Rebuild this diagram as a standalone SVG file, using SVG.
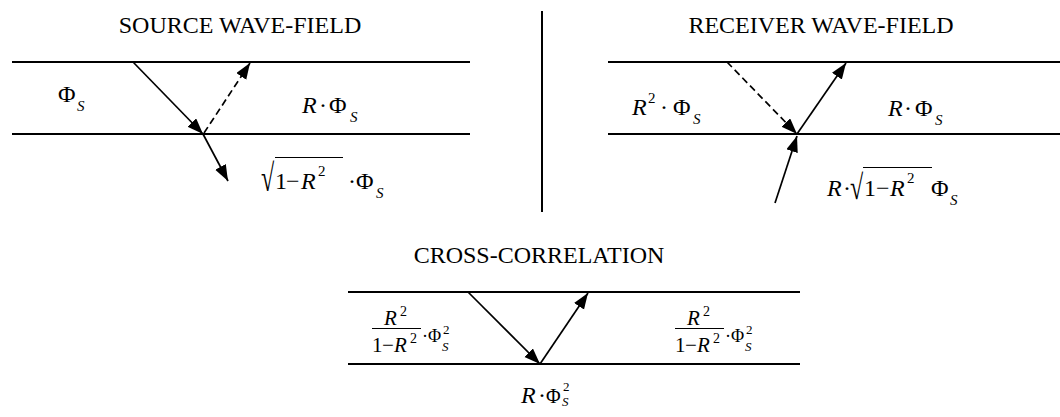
<svg xmlns="http://www.w3.org/2000/svg" width="1060" height="417" viewBox="0 0 1060 417">
<style>
text{font-family:"Liberation Serif","Times New Roman",serif;fill:#000}
.t{font-size:24px;text-anchor:middle}
.m{font-size:24px}
.i{font-style:italic}
.s{font-size:15px}
.f{font-size:21px}
.fs{font-size:14px}
.g{font-size:18px}
.gs{font-size:13px}
.rule{stroke:#000;stroke-width:2;fill:none}
.ar{stroke:#000;stroke-width:1.7;fill:none;marker-end:url(#ah)}
.da{stroke-dasharray:7,4}
.bar{stroke:#000;stroke-width:1.2}
</style>
<defs>
<marker id="ah" markerUnits="userSpaceOnUse" markerWidth="17" markerHeight="13" refX="16" refY="6" orient="auto">
<path d="M0,0 L16,6 L0,12 z" fill="#000"/>
</marker>
</defs>

<g id="source-panel">
<text class="t" x="240" y="33">SOURCE WAVE-FIELD</text>
<line class="rule" x1="12" y1="62" x2="470" y2="62"/>
<line class="rule" x1="12" y1="134" x2="470" y2="134"/>
<text class="m" x="58" y="102">Φ<tspan class="s i" x="77" y="111">S</tspan></text>
<text class="m" x="302" y="113"><tspan class="i">R</tspan><tspan x="319">·</tspan><tspan x="329">Φ</tspan><tspan class="s i" x="350" y="122">S</tspan></text>
<text class="m" transform="translate(261,191) scale(1,1.6)" x="0" y="0">√</text>
<line class="bar" x1="275" y1="157.5" x2="343" y2="157.5"/>
<text class="m" x="275" y="189">1<tspan x="286">−</tspan><tspan class="i" x="301">R</tspan><tspan class="s" x="318" y="176">2</tspan><tspan x="348" y="189">·</tspan><tspan x="356">Φ</tspan><tspan class="s i" x="376" y="198">S</tspan></text>
</g>

<g id="receiver-panel">
<text class="t" x="821" y="33">RECEIVER WAVE-FIELD</text>
<line class="rule" x1="608" y1="62" x2="1060" y2="62"/>
<line class="rule" x1="608" y1="134" x2="1060" y2="134"/>
<text class="m" x="632" y="115"><tspan class="i">R</tspan><tspan class="s" x="648" y="103">2</tspan><tspan x="660" y="115">·</tspan><tspan x="673">Φ</tspan><tspan class="s i" x="693" y="124">S</tspan></text>
<text class="m" x="888" y="116"><tspan class="i">R</tspan><tspan x="904">·</tspan><tspan x="915">Φ</tspan><tspan class="s i" x="935" y="125">S</tspan></text>
<text class="m" x="827" y="196"><tspan class="i">R</tspan><tspan x="843">·</tspan></text>
<text class="m" transform="translate(850,199) scale(1,1.45)" x="0" y="0">√</text>
<line class="bar" x1="863" y1="167.5" x2="932" y2="167.5"/>
<text class="m" x="864" y="196">1<tspan x="876">−</tspan><tspan class="i" x="890">R</tspan><tspan class="s" x="907" y="183">2</tspan><tspan x="931" y="196">Φ</tspan><tspan class="s i" x="950" y="205">S</tspan></text>
</g>

<g id="cross-correlation-panel">
<text class="t" x="539" y="263">CROSS-CORRELATION</text>
<line class="rule" x1="348" y1="292" x2="800" y2="292"/>
<line class="rule" x1="348" y1="364" x2="800" y2="364"/>
<g id="left-fraction">
<text class="f i" x="384" y="325">R<tspan class="fs" font-style="normal" x="400" y="316">2</tspan></text>
<line class="bar" x1="372" y1="328.5" x2="421" y2="328.5"/>
<text class="f" x="372" y="352">1<tspan x="382">−</tspan><tspan class="i" x="394">R</tspan><tspan class="fs" x="410" y="343">2</tspan></text>
<text class="g" x="422" y="342">·<tspan x="428">Φ</tspan><tspan class="gs" x="443" y="334">2</tspan><tspan class="gs i" x="442" y="351">S</tspan></text>
</g>
<g id="right-fraction">
<text class="f i" x="687" y="325">R<tspan class="fs" font-style="normal" x="703" y="316">2</tspan></text>
<line class="bar" x1="675" y1="328.5" x2="724" y2="328.5"/>
<text class="f" x="675" y="352">1<tspan x="685">−</tspan><tspan class="i" x="697">R</tspan><tspan class="fs" x="713" y="343">2</tspan></text>
<text class="g" x="725" y="342">·<tspan x="731">Φ</tspan><tspan class="gs" x="746" y="334">2</tspan><tspan class="gs i" x="745" y="351">S</tspan></text>
</g>
<text class="m" x="521" y="403"><tspan class="i">R</tspan><tspan x="538">·</tspan><tspan x="546" font-size="20">Φ</tspan><tspan class="gs" x="563" y="391">2</tspan><tspan class="gs i" x="562" y="406">S</tspan></text>
</g>

<g id="divider">
<line x1="542" y1="11" x2="542" y2="212" stroke="#000" stroke-width="2"/>
</g>

<g id="connectors">
<line class="ar" x1="133" y1="62" x2="203" y2="134"/>
<line class="ar da" x1="204" y1="133" x2="250" y2="63"/>
<line class="ar" x1="203" y1="134" x2="228" y2="181"/>
<line class="ar da" x1="727" y1="62" x2="797" y2="134"/>
<line class="ar" x1="797" y1="134" x2="846" y2="63"/>
<line class="ar" x1="775" y1="203" x2="797" y2="136"/>
<line class="ar" x1="468" y1="292" x2="540" y2="364"/>
<line class="ar" x1="540" y1="364" x2="588" y2="293"/>
</g>
</svg>
